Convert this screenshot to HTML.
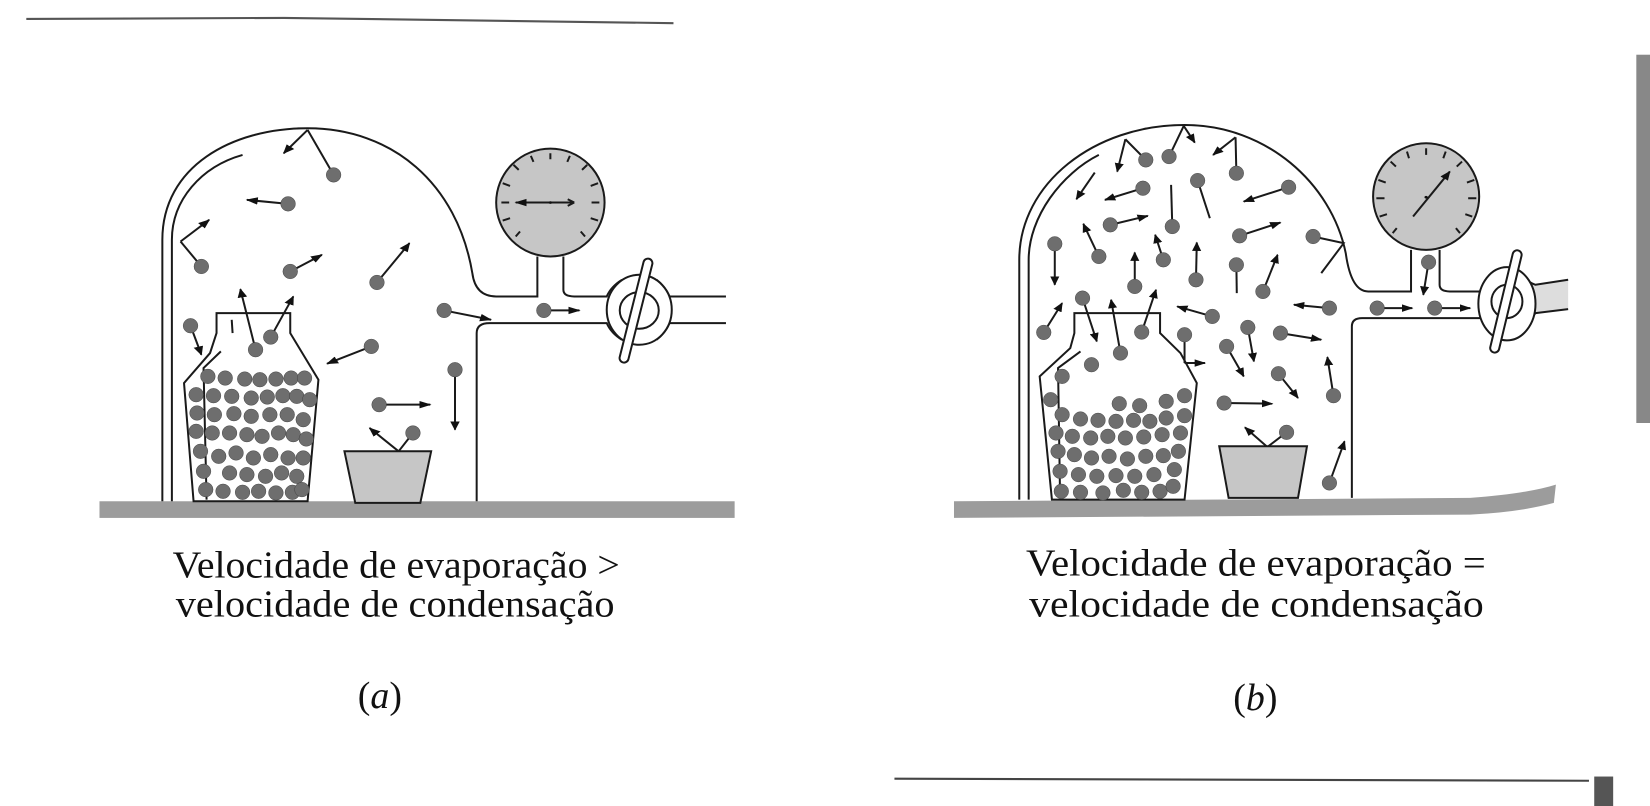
<!DOCTYPE html>
<html><head><meta charset="utf-8"><style>
html,body{margin:0;padding:0;background:#fff;width:1650px;height:806px;overflow:hidden}
svg{display:block}
.l{fill:none;stroke:#1a1a1a;stroke-width:2;vector-effect:non-scaling-stroke}
.a{fill:none;stroke:#1a1a1a;stroke-width:2;vector-effect:non-scaling-stroke;marker-end:url(#ar)}
.b{fill:#6e6e6e;stroke:#333;stroke-width:1;vector-effect:non-scaling-stroke}
.t{font-family:"Liberation Serif",serif;font-size:36px;fill:#111}
</style></head><body>
<svg width="1650" height="806" viewBox="0 0 1568 766" preserveAspectRatio="none" xmlns="http://www.w3.org/2000/svg">
<defs>
<marker id="ar" markerUnits="userSpaceOnUse" viewBox="0 0 10 8" refX="9" refY="4" markerWidth="28" markerHeight="24" orient="auto"><path d="M0,0 L10,4 L0,8 z" fill="#111"/></marker>
<radialGradient id="bg" cx="0.4" cy="0.35" r="0.7"><stop offset="0" stop-color="#9a9a9a"/><stop offset="1" stop-color="#555"/></radialGradient>
</defs>
<rect width="1568" height="766" fill="#fff"/>
<path d="M25,18 L270,17 L640,22" stroke="#555" stroke-width="2" fill="none"/>
<path d="M850,740 L1510,742" stroke="#444" stroke-width="2" fill="none"/>
<rect x="1555" y="52" width="13" height="350" fill="#888"/>
<rect x="1515" y="738" width="18" height="28" fill="#555"/>

<!-- PANEL A -->
<g transform="translate(76,95) scale(0.412,0.3165)">
<rect x="45" y="1205" width="1465" height="50" fill="#9c9c9c"/>
<path class="l" d="M190,1205 L190,420 C190,200 350,85 525,85 C720,85 870,250 905,520 Q912,590 960,590 L1055,590 L1055,470"/>
<path class="l" d="M1115,470 L1115,570 Q1115,590 1140,590 L1215,590 Q1225,560 1250,540"/>
<path class="l" d="M1330,540 Q1350,560 1360,590 L1490,590 M1360,670 L1490,670 M1330,720 Q1350,700 1360,670"/>
<path class="l" d="M915,1205 L915,700 Q915,670 945,670 L1215,670 Q1225,700 1250,720"/>
<ellipse cx="1290" cy="630" rx="75" ry="105" fill="#fff" class="l" style="fill:#fff"/>
<ellipse cx="1290" cy="632" rx="45" ry="55" class="l"/>
<line x1="1310" y1="490" x2="1255" y2="775" stroke="#1a1a1a" stroke-width="11" stroke-linecap="round" vector-effect="non-scaling-stroke"/>
<line x1="1310" y1="490" x2="1255" y2="775" stroke="#fff" stroke-width="7" stroke-linecap="round" vector-effect="non-scaling-stroke"/>
<ellipse cx="1085" cy="308" rx="125" ry="162" fill="#c6c6c6" stroke="#1a1a1a" stroke-width="2" vector-effect="non-scaling-stroke"/>
<g stroke="#222" stroke-width="2" vector-effect="non-scaling-stroke">
<path class="l" d="M1085,160 L1085,178 M1040,168 L1046,186 M1130,168 L1124,186 M1000,195 L1012,210 M1170,195 L1158,210 M975,250 L992,258 M1195,250 L1178,258 M972,308 L990,308 M1198,308 L1180,308 M975,362 L992,355 M1195,362 L1178,355 M1005,410 L1015,395 M1165,410 L1155,395"/>
</g>
<path class="a" d="M1140,308 L1005,308"/>
<path class="l" d="M1140,308 L1125,298 M1140,308 L1125,318"/>
<circle cx="1085" cy="308" r="4" fill="#111"/>
<path class="l" d="M212,1205 L212,420 C212,300 280,200 375,165"/>
<path d="M262,1205 L240,850 L300,760 L315,700 L315,640 L485,640 L485,700 L550,840 L525,1205 Z" class="l" style="fill:#fff"/>
<path class="l" d="M325,755 L285,805 L292,1200 M350,660 L352,700"/>
<g class="b" fill="url(#bg)">
<ellipse cx="295" cy="830" rx="17" ry="22"/><ellipse cx="335" cy="835" rx="17" ry="22"/><ellipse cx="380" cy="838" rx="17" ry="22"/><ellipse cx="415" cy="840" rx="17" ry="22"/><ellipse cx="452" cy="838" rx="17" ry="22"/><ellipse cx="487" cy="835" rx="17" ry="22"/><ellipse cx="518" cy="835" rx="17" ry="22"/>
<ellipse cx="268" cy="885" rx="17" ry="22"/><ellipse cx="308" cy="888" rx="17" ry="22"/><ellipse cx="350" cy="890" rx="17" ry="22"/><ellipse cx="395" cy="895" rx="17" ry="22"/><ellipse cx="432" cy="892" rx="17" ry="22"/><ellipse cx="468" cy="888" rx="17" ry="22"/><ellipse cx="500" cy="890" rx="17" ry="22"/><ellipse cx="530" cy="900" rx="17" ry="22"/>
<ellipse cx="270" cy="940" rx="17" ry="22"/><ellipse cx="310" cy="945" rx="17" ry="22"/><ellipse cx="355" cy="942" rx="17" ry="22"/><ellipse cx="395" cy="950" rx="17" ry="22"/><ellipse cx="438" cy="945" rx="17" ry="22"/><ellipse cx="478" cy="945" rx="17" ry="22"/><ellipse cx="515" cy="960" rx="17" ry="22"/>
<ellipse cx="268" cy="995" rx="17" ry="22"/><ellipse cx="305" cy="1000" rx="17" ry="22"/><ellipse cx="345" cy="1000" rx="17" ry="22"/><ellipse cx="385" cy="1005" rx="17" ry="22"/><ellipse cx="420" cy="1010" rx="17" ry="22"/><ellipse cx="458" cy="1000" rx="17" ry="22"/><ellipse cx="492" cy="1005" rx="17" ry="22"/><ellipse cx="522" cy="1018" rx="17" ry="22"/>
<ellipse cx="278" cy="1055" rx="17" ry="22"/><ellipse cx="320" cy="1070" rx="17" ry="22"/><ellipse cx="360" cy="1060" rx="17" ry="22"/><ellipse cx="400" cy="1075" rx="17" ry="22"/><ellipse cx="440" cy="1065" rx="17" ry="22"/><ellipse cx="480" cy="1075" rx="17" ry="22"/><ellipse cx="515" cy="1075" rx="17" ry="22"/>
<ellipse cx="285" cy="1115" rx="17" ry="22"/><ellipse cx="345" cy="1120" rx="17" ry="22"/><ellipse cx="385" cy="1125" rx="17" ry="22"/><ellipse cx="428" cy="1130" rx="17" ry="22"/><ellipse cx="465" cy="1120" rx="17" ry="22"/><ellipse cx="500" cy="1130" rx="17" ry="22"/>
<ellipse cx="290" cy="1170" rx="17" ry="22"/><ellipse cx="330" cy="1175" rx="17" ry="22"/><ellipse cx="375" cy="1178" rx="17" ry="22"/><ellipse cx="412" cy="1175" rx="17" ry="22"/><ellipse cx="452" cy="1180" rx="17" ry="22"/><ellipse cx="490" cy="1178" rx="17" ry="22"/><ellipse cx="512" cy="1170" rx="17" ry="22"/>
</g>
<path d="M610,1055 L810,1055 L785,1210 L635,1210 Z" fill="#c6c6c6" stroke="#1a1a1a" stroke-width="2" vector-effect="non-scaling-stroke"/>
<path class="l" d="M585,225 L525,90"/><path class="a" d="M525,90 L470,160"/>
<path class="a" d="M480,312 L385,300"/>
<path class="l" d="M280,500 L232,425"/><path class="a" d="M232,425 L298,360"/>
<path class="a" d="M485,515 L558,465"/>
<path class="a" d="M685,548 L760,430"/>
<path class="a" d="M255,678 L280,765"/>
<path class="a" d="M405,750 L370,568"/>
<path class="a" d="M440,712 L492,590"/>
<path class="a" d="M672,740 L570,792"/>
<path class="a" d="M840,632 L948,660"/>
<path class="a" d="M1070,632 L1152,632"/>
<path class="a" d="M865,810 L865,990"/>
<path class="a" d="M690,915 L808,915"/>
<path class="l" d="M768,1000 L735,1055"/><path class="a" d="M735,1055 L668,985"/>
<g class="b" fill="url(#bg)">
<ellipse cx="585" cy="225" rx="17" ry="22"/><ellipse cx="480" cy="312" rx="17" ry="22"/><ellipse cx="280" cy="500" rx="17" ry="22"/><ellipse cx="485" cy="515" rx="17" ry="22"/><ellipse cx="685" cy="548" rx="17" ry="22"/><ellipse cx="255" cy="678" rx="17" ry="22"/><ellipse cx="405" cy="750" rx="17" ry="22"/><ellipse cx="440" cy="712" rx="17" ry="22"/><ellipse cx="672" cy="740" rx="17" ry="22"/><ellipse cx="840" cy="632" rx="17" ry="22"/><ellipse cx="1070" cy="632" rx="17" ry="22"/><ellipse cx="865" cy="810" rx="17" ry="22"/><ellipse cx="690" cy="915" rx="17" ry="22"/><ellipse cx="768" cy="1000" rx="17" ry="22"/>
</g>
</g>

<!-- PANEL B -->
<g transform="translate(893,95) scale(0.3878,0.3165)">
<path d="M35,1205 L1300,1195 Q1440,1182 1510,1155 L1505,1210 Q1420,1238 1300,1245 L35,1255 Z" fill="#9c9c9c"/>
<path class="l" d="M195,1200 L195,480 C195,250 380,75 600,75 C800,75 960,250 995,460 Q1008,575 1050,575 L1155,575 L1155,450"/>
<path class="l" d="M1225,450 L1225,555 Q1225,575 1250,575 L1325,575 Q1340,545 1355,530"/>
<path class="l" d="M1010,1195 L1010,680 Q1010,655 1035,655 L1325,655 Q1340,680 1355,695"/>
<path d="M1430,530 Q1445,550 1460,555 L1540,540 L1540,628 L1460,640 Q1445,650 1430,695 Z" fill="#ddd"/>
<path class="l" d="M1430,530 Q1445,550 1460,555 L1540,540 M1460,640 L1540,628 M1430,695 Q1445,660 1460,640"/>
<ellipse cx="1390" cy="612" rx="70" ry="110" class="l" style="fill:#fff"/>
<ellipse cx="1390" cy="605" rx="38" ry="50" class="l"/>
<line x1="1415" y1="465" x2="1360" y2="745" stroke="#1a1a1a" stroke-width="11" stroke-linecap="round" vector-effect="non-scaling-stroke"/>
<line x1="1415" y1="465" x2="1360" y2="745" stroke="#fff" stroke-width="7" stroke-linecap="round" vector-effect="non-scaling-stroke"/>
<ellipse cx="1192" cy="290" rx="130" ry="160" fill="#c6c6c6" stroke="#1a1a1a" stroke-width="2" vector-effect="non-scaling-stroke"/>
<path class="l" d="M1192,145 L1192,165 M1145,155 L1150,175 M1240,155 L1234,175 M1105,185 L1118,200 M1280,185 L1267,200 M1075,240 L1093,248 M1310,240 L1292,248 M1070,295 L1090,295 M1315,295 L1295,295 M1078,350 L1096,343 M1305,350 L1288,343 M1110,400 L1120,385 M1275,400 L1265,385"/>
<path class="a" d="M1160,350 L1250,215"/>
<circle cx="1192" cy="292" r="4" fill="#111"/>
<path class="l" d="M218,1200 L218,480 C218,350 300,220 390,165"/>
<path d="M275,1200 L245,830 L320,745 L330,700 L330,640 L540,640 L540,700 L590,760 L630,850 L600,1200 Z" class="l" style="fill:#fff"/>
<path class="l" d="M345,755 L290,805 L295,1195"/>
<path class="l" d="M505,180 L455,118"/><path class="a" d="M455,118 L435,215"/>
<path class="l" d="M562,170 L598,78"/><path class="a" d="M598,78 L625,128"/>
<path class="l" d="M727,220 L725,112"/><path class="a" d="M725,112 L670,165"/>
<path class="a" d="M498,265 L405,300"/>
<path class="l" d="M632,242 L662,355"/>
<path class="a" d="M855,262 L745,305"/>
<path class="a" d="M380,218 L335,298"/>
<path class="a" d="M418,375 L510,348"/>
<path class="l" d="M570,380 L567,255"/>
<path class="a" d="M735,408 L835,368"/>
<path class="l" d="M915,410 L990,430 L935,520"/>
<path class="a" d="M282,432 L282,555"/>
<path class="a" d="M390,470 L352,372"/>
<path class="a" d="M548,480 L528,405"/>
<path class="a" d="M478,560 L478,458"/>
<path class="a" d="M628,540 L630,428"/>
<path class="l" d="M727,495 L728,580"/>
<path class="a" d="M792,575 L828,465"/>
<path class="a" d="M255,698 L300,610"/>
<path class="a" d="M350,595 L385,725"/>
<path class="a" d="M443,760 L420,600"/>
<path class="a" d="M495,697 L530,570"/>
<path class="a" d="M668,650 L582,620"/>
<path class="l" d="M600,705 L600,790"/><path class="a" d="M600,790 L650,790"/>
<path class="a" d="M755,683 L770,785"/>
<path class="a" d="M703,740 L745,830"/>
<path class="a" d="M835,700 L935,720"/>
<path class="a" d="M955,625 L868,615"/>
<path class="a" d="M830,822 L878,895"/>
<path class="a" d="M965,888 L950,772"/>
<path class="a" d="M697,910 L815,912"/>
<path class="l" d="M850,998 L803,1042"/><path class="a" d="M803,1042 L748,983"/>
<path class="a" d="M955,1150 L992,1025"/>
<path class="a" d="M1072,625 L1158,625"/>
<path class="a" d="M1213,625 L1300,625"/>
<path class="a" d="M1198,487 L1185,585"/>
<path d="M685,1040 L900,1040 L878,1195 L708,1195 Z" fill="#c6c6c6" stroke="#1a1a1a" stroke-width="2" vector-effect="non-scaling-stroke"/>
<g class="b" fill="url(#bg)">
<ellipse cx="505" cy="180" rx="18" ry="22"/><ellipse cx="562" cy="170" rx="18" ry="22"/><ellipse cx="727" cy="220" rx="18" ry="22"/><ellipse cx="498" cy="265" rx="18" ry="22"/><ellipse cx="632" cy="242" rx="18" ry="22"/><ellipse cx="855" cy="262" rx="18" ry="22"/><ellipse cx="418" cy="375" rx="18" ry="22"/><ellipse cx="570" cy="380" rx="18" ry="22"/><ellipse cx="735" cy="408" rx="18" ry="22"/><ellipse cx="915" cy="410" rx="18" ry="22"/><ellipse cx="282" cy="432" rx="18" ry="22"/><ellipse cx="390" cy="470" rx="18" ry="22"/><ellipse cx="548" cy="480" rx="18" ry="22"/><ellipse cx="478" cy="560" rx="18" ry="22"/><ellipse cx="628" cy="540" rx="18" ry="22"/><ellipse cx="727" cy="495" rx="18" ry="22"/><ellipse cx="792" cy="575" rx="18" ry="22"/><ellipse cx="255" cy="698" rx="18" ry="22"/><ellipse cx="350" cy="595" rx="18" ry="22"/><ellipse cx="443" cy="760" rx="18" ry="22"/><ellipse cx="495" cy="697" rx="18" ry="22"/><ellipse cx="372" cy="795" rx="18" ry="22"/><ellipse cx="300" cy="830" rx="18" ry="22"/><ellipse cx="668" cy="650" rx="18" ry="22"/><ellipse cx="600" cy="705" rx="18" ry="22"/><ellipse cx="755" cy="683" rx="18" ry="22"/><ellipse cx="703" cy="740" rx="18" ry="22"/><ellipse cx="835" cy="700" rx="18" ry="22"/><ellipse cx="955" cy="625" rx="18" ry="22"/><ellipse cx="830" cy="822" rx="18" ry="22"/><ellipse cx="965" cy="888" rx="18" ry="22"/><ellipse cx="697" cy="910" rx="18" ry="22"/><ellipse cx="850" cy="998" rx="18" ry="22"/><ellipse cx="955" cy="1150" rx="18" ry="22"/><ellipse cx="1072" cy="625" rx="18" ry="22"/><ellipse cx="1213" cy="625" rx="18" ry="22"/><ellipse cx="1198" cy="487" rx="18" ry="22"/>
<ellipse cx="272" cy="900" rx="18" ry="22"/><ellipse cx="440" cy="912" rx="18" ry="22"/><ellipse cx="490" cy="918" rx="18" ry="22"/><ellipse cx="555" cy="905" rx="18" ry="22"/><ellipse cx="600" cy="888" rx="18" ry="22"/>
<ellipse cx="300" cy="945" rx="18" ry="22"/><ellipse cx="345" cy="958" rx="18" ry="22"/><ellipse cx="388" cy="962" rx="18" ry="22"/><ellipse cx="432" cy="965" rx="18" ry="22"/><ellipse cx="475" cy="962" rx="18" ry="22"/><ellipse cx="515" cy="965" rx="18" ry="22"/><ellipse cx="555" cy="955" rx="18" ry="22"/><ellipse cx="600" cy="948" rx="18" ry="22"/>
<ellipse cx="285" cy="1000" rx="18" ry="22"/><ellipse cx="325" cy="1010" rx="18" ry="22"/><ellipse cx="370" cy="1015" rx="18" ry="22"/><ellipse cx="412" cy="1010" rx="18" ry="22"/><ellipse cx="455" cy="1015" rx="18" ry="22"/><ellipse cx="500" cy="1012" rx="18" ry="22"/><ellipse cx="545" cy="1005" rx="18" ry="22"/><ellipse cx="590" cy="1000" rx="18" ry="22"/>
<ellipse cx="290" cy="1055" rx="18" ry="22"/><ellipse cx="330" cy="1065" rx="18" ry="22"/><ellipse cx="372" cy="1075" rx="18" ry="22"/><ellipse cx="415" cy="1070" rx="18" ry="22"/><ellipse cx="460" cy="1078" rx="18" ry="22"/><ellipse cx="505" cy="1070" rx="18" ry="22"/><ellipse cx="548" cy="1068" rx="18" ry="22"/><ellipse cx="585" cy="1055" rx="18" ry="22"/>
<ellipse cx="295" cy="1115" rx="18" ry="22"/><ellipse cx="340" cy="1125" rx="18" ry="22"/><ellipse cx="385" cy="1130" rx="18" ry="22"/><ellipse cx="432" cy="1128" rx="18" ry="22"/><ellipse cx="478" cy="1130" rx="18" ry="22"/><ellipse cx="525" cy="1125" rx="18" ry="22"/><ellipse cx="575" cy="1110" rx="18" ry="22"/>
<ellipse cx="298" cy="1175" rx="18" ry="22"/><ellipse cx="345" cy="1178" rx="18" ry="22"/><ellipse cx="400" cy="1180" rx="18" ry="22"/><ellipse cx="450" cy="1172" rx="18" ry="22"/><ellipse cx="495" cy="1178" rx="18" ry="22"/><ellipse cx="540" cy="1175" rx="18" ry="22"/><ellipse cx="572" cy="1160" rx="18" ry="22"/>
</g>
</g>

<text class="t" x="164" y="549" textLength="425" lengthAdjust="spacingAndGlyphs">Velocidade de evaporação &gt;</text>
<text class="t" x="167" y="586" textLength="417" lengthAdjust="spacingAndGlyphs">velocidade de condensação</text>
<text class="t" x="340" y="673" font-size="36">(<tspan font-style="italic">a</tspan>)</text>
<text class="t" x="975" y="547" textLength="437" lengthAdjust="spacingAndGlyphs">Velocidade de evaporação =</text>
<text class="t" x="978" y="586" textLength="432" lengthAdjust="spacingAndGlyphs">velocidade de condensação</text>
<text class="t" x="1172" y="675">(<tspan font-style="italic">b</tspan>)</text>
</svg>
</body></html>
